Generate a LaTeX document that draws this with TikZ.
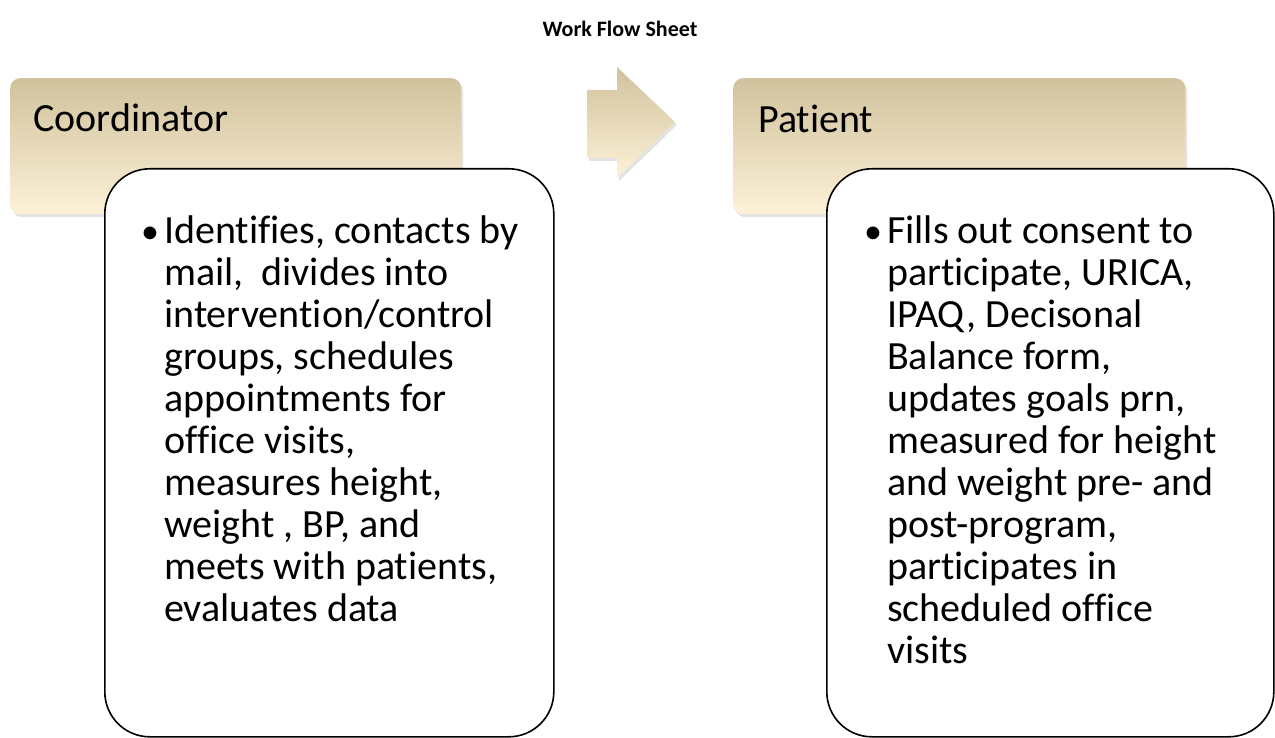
\documentclass[tikz,border=0pt]{standalone}
\usepackage{fontspec}
\setmainfont{Carlito}[Ligatures=NoCommon]
\usetikzlibrary{shadows}
\definecolor{tanTop}{RGB}{208,194,156}
\definecolor{tanMid}{RGB}{240,232,208}
\definecolor{tanBot}{RGB}{253,241,216}
\tikzset{
  header/.style={rounded corners=10pt, top color=tanTop, middle color=tanMid, bottom color=tanBot,
    drop shadow={opacity=0.22, shadow xshift=2pt, shadow yshift=-3pt}},
  flowarrow/.style={top color=tanTop, middle color=tanMid, bottom color=tanBot,
    drop shadow={opacity=0.22, shadow xshift=2pt, shadow yshift=-3pt}},
  detail/.style={draw=black, line width=1.6pt, fill=white, rounded corners=45pt, inner sep=0pt},
  lbl/.style={anchor=base west, inner sep=0pt, font=\fontsize{40}{42}\selectfont},
  bodytext/.style={anchor=base west, inner sep=0pt, font=\fontsize{40}{42}\selectfont},
  bul/.style={anchor=base west, inner sep=0pt, font=\fontsize{36}{42}\selectfont},
  ttl/.style={inner sep=0pt, font=\fontsize{22}{26}\selectfont\bfseries}
}
\begin{document}
\begin{tikzpicture}[x=1pt,y=-1pt]
\useasboundingbox[fill=white] (0,0) rectangle (1275,738);
% title
\node[ttl, anchor=base] (title) at (620,37) {Work Flow Sheet};
% headers
\node[header, draw=none, minimum width=451pt, minimum height=136pt, anchor=north west, inner sep=0pt] (coordHead) at (10,78) {};
\node[header, draw=none, minimum width=452pt, minimum height=136pt, anchor=north west, inner sep=0pt] (patHead) at (733,78) {};
% arrow
\path[flowarrow] (587,90) -- (617,90) -- (617,67) -- (675,122) -- (617,178) -- (617,158) -- (587,158) -- cycle;
\node[lbl] (coordLbl) at (33,132) {Coordinator};
\node[lbl] (patLbl) at (758,133) {Patient};
% detail boxes
\node[detail, minimum width=449pt, minimum height=568pt, anchor=north west] (coordBody) at (104,168) {};
\node[detail, minimum width=447pt, minimum height=568pt, anchor=north west] (patBody) at (826,168) {};
% bullets and texts
\node[bul] (coordBul) at (141,244) {•};
\node[bodytext] (coordText) at (164,244) {\parbox[t]{385pt}{\raggedright
Identifies, contacts by\\
mail,~ divides into\\
intervention/control\\
groups, schedules\\
appointments for\\
office visits,\\
measures height,\\
weight , BP, and\\
meets with patients,\\
evaluates data}};
\node[bul] (patBul) at (864,244) {•};
\node[bodytext] (patText) at (887,244) {\parbox[t]{385pt}{\raggedright
Fills out consent to\\
participate, URICA,\\
IPAQ, Decisonal\\
Balance form,\\
updates goals prn,\\
measured for height\\
and weight pre- and\\
post-program,\\
participates in\\
scheduled office\\
visits}};
\end{tikzpicture}
\end{document}
